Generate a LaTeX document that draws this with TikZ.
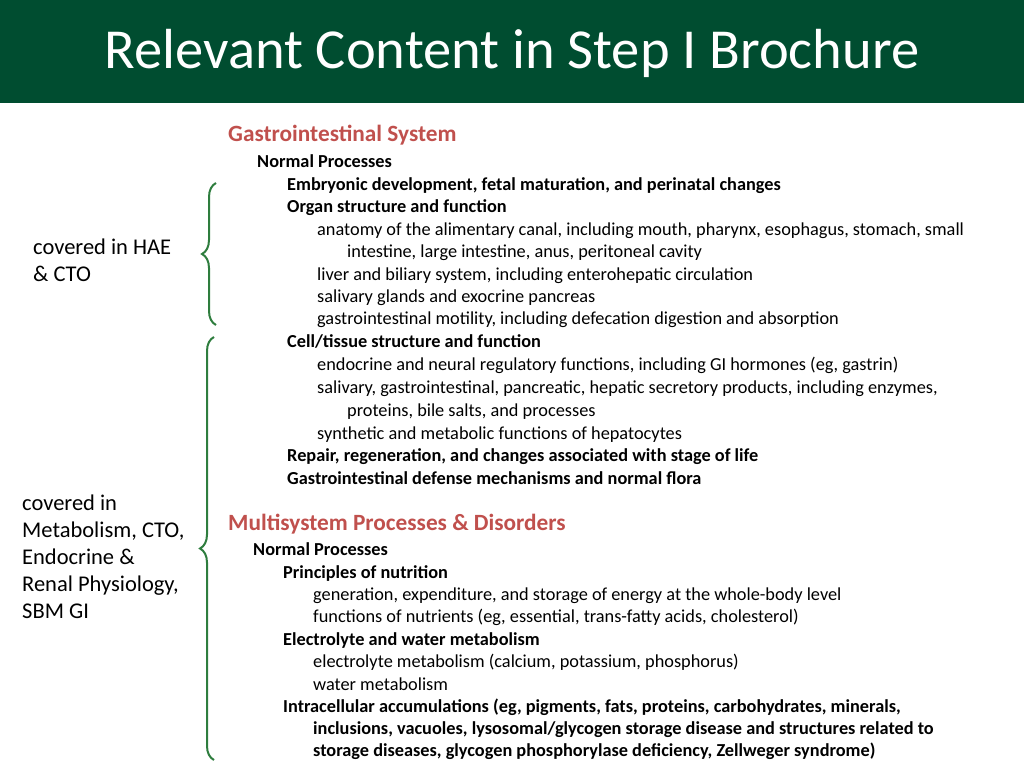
\documentclass[tikz,border=0pt]{standalone}
\usepackage{fontspec}
\setmainfont{Carlito}
\usetikzlibrary{decorations.pathreplacing}
\definecolor{hdr}{HTML}{004D30}
\definecolor{redh}{HTML}{C0504D}
\definecolor{brc}{HTML}{2E7D3E}
\begin{document}
\begin{tikzpicture}[x=1pt,y=-1pt,
  t/.style={anchor=base west,inner sep=0pt,font=\fontsize{18.3}{20}\selectfont},
  tb/.style={t,font=\fontsize{18.3}{20}\selectfont\bfseries},
  rh/.style={anchor=base west,inner sep=0pt,text=redh,font=\fontsize{23.3}{25}\selectfont\bfseries},
  lab/.style={anchor=north west,inner sep=0pt,align=left,font=\fontsize{22.5}{27}\selectfont},
  br/.style={draw=brc,line width=2pt,decorate,decoration={brace,amplitude=14pt}}]
\useasboundingbox (0,0) rectangle (1024,768);
\fill[hdr] (0,0) rectangle (1024,103);
\node[text=white,font=\fontsize{56.5}{60}\selectfont] (title) at (512,53) {Relevant Content in Step I Brochure};
\node[rh] (g0) at (228,141) {Gastrointestinal System};
\node[tb] (g1) at (257,167) {Normal Processes};
\node[tb] (g2) at (287,190) {Embryonic development, fetal maturation, and perinatal changes};
\node[tb] (g3) at (287,212) {Organ structure and function};
\node[t] (g4) at (317,235) {anatomy of the alimentary canal, including mouth, pharynx, esophagus, stomach, small};
\node[t] (g5) at (347,257) {intestine, large intestine, anus, peritoneal cavity};
\node[t] (g6) at (317,280) {liver and biliary system, including enterohepatic circulation};
\node[t] (g7) at (317,302) {salivary glands and exocrine pancreas};
\node[t] (g8) at (317,324) {gastrointestinal motility, including defecation digestion and absorption};
\node[tb] (g9) at (287,347) {Cell/tissue structure and function};
\node[t] (g10) at (317,370) {endocrine and neural regulatory functions, including GI hormones (eg, gastrin)};
\node[t] (g11) at (317,393) {salivary, gastrointestinal, pancreatic, hepatic secretory products, including enzymes,};
\node[t] (g12) at (347,416) {proteins, bile salts, and processes};
\node[t] (g13) at (317,439) {synthetic and metabolic functions of hepatocytes};
\node[tb] (g14) at (287,461) {Repair, regeneration, and changes associated with stage of life};
\node[tb] (g15) at (287,484) {Gastrointestinal defense mechanisms and normal flora};
\node[rh] (m0) at (228,530) {Multisystem Processes \& Disorders};
\node[tb] (m1) at (253,555) {Normal Processes};
\node[tb] (m2) at (283,578) {Principles of nutrition};
\node[t] (m3) at (313,600) {generation, expenditure, and storage of energy at the whole-body level};
\node[t] (m4) at (313,622) {functions of nutrients (eg, essential, trans-fatty acids, cholesterol)};
\node[tb] (m5) at (283,645) {Electrolyte and water metabolism};
\node[t] (m6) at (313,667) {electrolyte metabolism (calcium, potassium, phosphorus)};
\node[t] (m7) at (313,690) {water metabolism};
\node[tb] (m8) at (283,712) {Intracellular accumulations (eg, pigments, fats, proteins, carbohydrates, minerals,};
\node[tb] (m9) at (313,734) {inclusions, vacuoles, lysosomal/glycogen storage disease and structures related to};
\node[tb] (m10) at (313,756) {storage diseases, glycogen phosphorylase deficiency, Zellweger syndrome)};
\node[lab] (l1) at (33,239) {covered in HAE\\\& CTO};
\node[lab] (l2) at (22,495) {covered in\\Metabolism, CTO,\\Endocrine \&\\Renal Physiology,\\SBM GI};
\coordinate (b1a) at (216,325); \coordinate (b1b) at (216,183);
\coordinate (b2a) at (214,760); \coordinate (b2b) at (214,337);
\draw[br] (b1a) -- (b1b);
\draw[br] (b2a) -- (b2b);
\end{tikzpicture}
\end{document}
